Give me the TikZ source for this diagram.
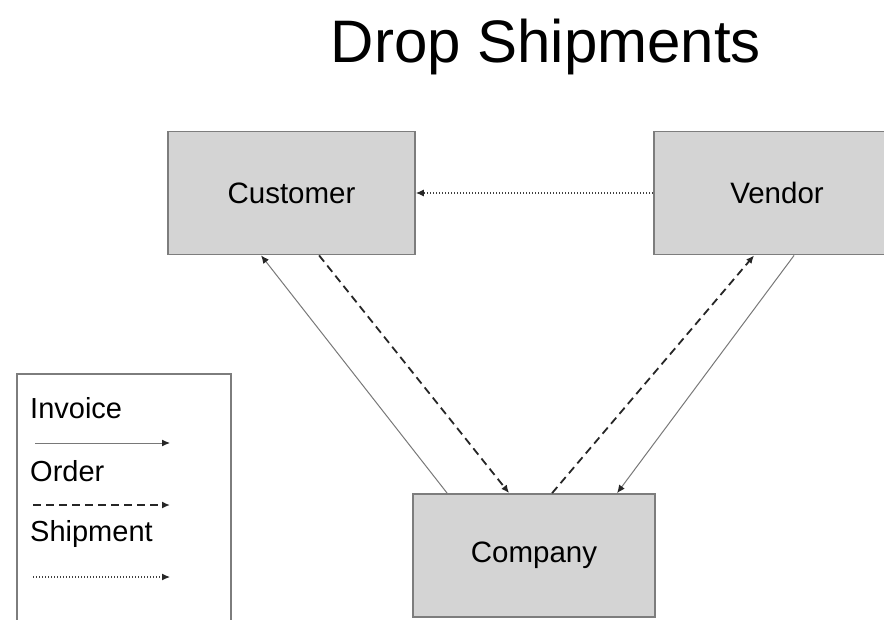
\documentclass[tikz,border=0pt]{standalone}
\usepackage{fontspec}
\setmainfont{Liberation Sans}
\usetikzlibrary{arrows.meta,calc}
\definecolor{boxfill}{RGB}{212,212,212}
\definecolor{boxline}{RGB}{125,125,125}
\definecolor{invline}{RGB}{120,120,120}
\tikzset{
  entity/.style={draw=boxline, line width=1.8pt, fill=boxfill, inner sep=0pt,
    minimum height=123pt, font=\fontsize{29.5}{32}\selectfont},
  tip/.style={-{Latex[length=8pt,width=7pt,color=black!85]}},
  invoice/.style={tip, draw=invline, line width=1pt},
  order/.style={tip, draw=black!85, line width=1.8pt, dash pattern=on 8pt off 5pt},
  shipment/.style={tip, draw=black!75, line width=1.1pt, dash pattern=on 1.3pt off 1.7pt},
  legtext/.style={anchor=west, inner sep=0pt, font=\fontsize{29}{32}\selectfont},
}
\begin{document}
\begin{tikzpicture}[x=1pt,y=-1pt]
\useasboundingbox (0,0) rectangle (884,619);
\clip (0,0) rectangle (884,619);
\node[anchor=base, inner sep=0pt, font=\fontsize{60}{66}\selectfont] (title) at (546,62) {Drop Shipments};
\node[entity, minimum width=247pt] (cust) at (291.5,193) {Customer};
\node[entity, minimum width=246pt] (vend) at (777,193) {Vendor};
\node[entity, minimum width=242pt] (comp) at (534,555.5) {Company};
% connectors
\draw[shipment] (vend.west) -- (cust.east);
\draw[invoice] ([xshift=35pt]comp.north west) -- ([xshift=94pt]cust.south west);
\draw[order] ([xshift=152pt]cust.south west) -- ([xshift=97pt]comp.north west);
\draw[order] ([xshift=140pt]comp.north west) -- ([xshift=101pt]vend.south west);
\draw[invoice] ([xshift=141pt]vend.south west) -- ([xshift=205pt]comp.north west);
% legend
\draw[boxline, line width=1.5pt] (17,625) -- (17,374) -- (231,374) -- (231,625);
\node[legtext] (linv) at (30,408) {Invoice};
\node[legtext] (lord) at (30,471) {Order};
\node[legtext] (lshp) at (30,534) {Shipment};
\coordinate (i1) at (35,443); \coordinate (i2) at (170,443);
\coordinate (o1) at (33,505); \coordinate (o2) at (170,505);
\coordinate (s1) at (33,577); \coordinate (s2) at (170,577);
\draw[invoice] (i1) -- (i2);
\draw[order] (o1) -- (o2);
\draw[shipment] (s1) -- (s2);
\end{tikzpicture}
\end{document}
